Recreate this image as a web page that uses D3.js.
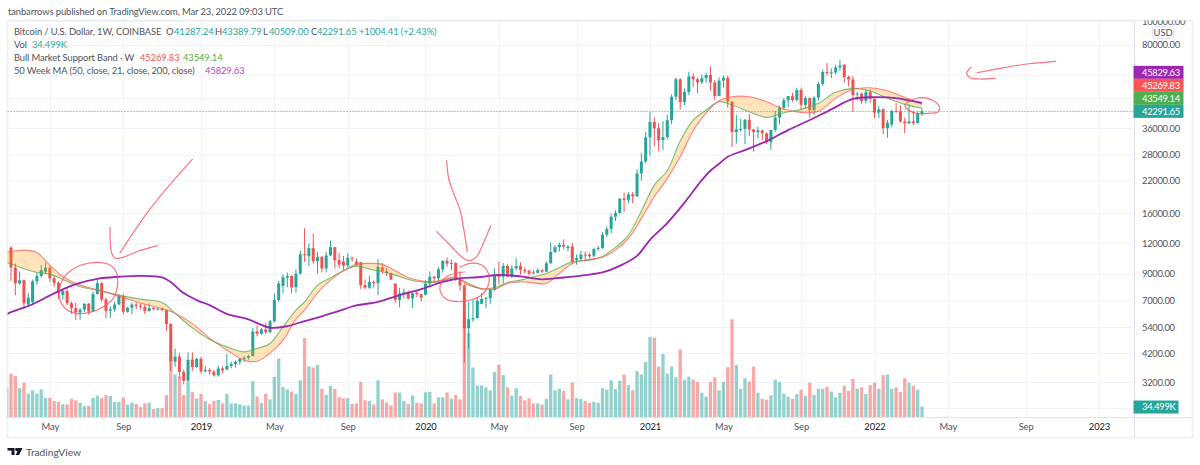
<!DOCTYPE html>
<html>
<head>
<meta charset="utf-8">
<title>BTCUSD 1W</title>
<script src="https://cdn.jsdelivr.net/npm/d3@7"></script>
<style>
  html, body { margin: 0; padding: 0; background: #fff; }
  svg { display: block; }
  text { font-family: "Lato", "Open Sans", sans-serif; font-size: 9.4px; letter-spacing: -0.1px; }
  .num { letter-spacing: -0.3px; }
</style>
</head>
<body>
<svg id="chart" width="1200" height="465"></svg>
<script>
// weekly candles, Mar 5 2018 .. Mar 21 2022
const open = [11510,9530,8200,8450,6700,6850,8360,8800,9155,9510,8600,8240,7350,7620,6780,6470,6210,6380,6750,6260,7400,8210,7030,6310,6400,6710,7260,6250,6490,6700,6620,6560,6300,6480,6380,6440,6350,5560,3890,4070,3520,3240,3960,3690,3990,3540,3590,3530,3410,3640,3600,3730,3800,3880,3990,4030,4100,5180,5070,5280,5150,5710,7000,8000,8650,8800,7900,9000,10830,10630,11470,10130,10560,9450,10700,11570,10230,10100,9725,10460,10100,10030,8060,7870,8300,8215,9550,9200,9030,8180,7000,7400,7530,7100,7500,7380,7350,8180,8730,8610,9370,10170,9900,9960,8530,8040,5340,5820,5890,6750,7060,7120,7700,8870,8730,9680,8720,9450,9670,9320,9250,9100,9060,9300,9170,9930,11050,11570,11850,11480,11660,10250,10330,10780,10780,10670,11370,11500,13030,13770,15480,16050,18400,18180,19150,18800,23400,26200,33000,38200,36000,32100,33100,38870,48600,57400,46200,50900,59000,57400,55800,58000,59800,55700,49000,56700,58200,46400,34700,35650,35800,39000,35600,34700,35300,34250,31500,35400,39850,43800,47000,48900,47100,51800,45000,48000,42700,48200,54950,61500,60800,61300,64300,65900,58700,57300,49700,50100,46700,50800,47700,41800,43100,36000,37300,42400,42200,38400,37700,38400,37800,41287.24];
const high = [11700,9900,9180,8500,7500,8500,9040,9760,9990,9650,8790,8360,7780,7780,6900,6830,6480,6780,6800,7590,8480,8290,7150,6600,6880,7400,7410,6570,6830,6850,6740,6680,6780,6520,6500,6510,6380,5620,4400,4220,3600,4250,4250,4020,4070,3730,3650,3590,3740,3720,4190,3880,3930,4020,4100,4150,5350,5470,5350,5640,5780,7450,8390,8950,9090,8840,9350,11200,13880,12000,13200,11100,10650,11080,12330,11620,10950,10650,10920,10550,10400,10050,8520,8820,8440,10350,9950,9500,9100,8210,7850,7800,7650,7520,7700,7450,8450,9190,8800,9580,10200,10500,10300,10030,9190,8180,6880,6990,7200,7460,7200,7770,9460,10080,9950,9840,9750,10430,10000,9550,9350,9300,9480,9380,10100,12120,11800,12100,12470,11800,12070,10800,11180,11100,10950,11500,11720,13350,14100,15960,16480,18480,19500,19550,19600,24300,28400,34800,41950,40000,37800,38500,40950,49700,58350,58000,52600,61700,61000,58400,60100,61200,64900,57000,58500,59600,59500,46700,40900,39400,39400,41300,35700,36600,35500,34600,35400,42500,44700,48100,49000,50500,52900,52900,48800,48400,48800,56100,62900,67000,63700,66000,69000,66300,59500,59100,51000,50500,51900,52100,47900,44400,43500,38900,43000,45800,44800,39800,45400,42500,42400,43389.79];
const low = [8400,7320,8080,6430,6580,6640,8100,8650,9000,8330,7940,7050,7030,6650,6120,5780,5800,6230,6100,6240,7360,6870,5880,5880,6250,6660,6100,6200,6100,6400,6400,6100,6250,6350,6330,6280,5200,3560,3700,3300,3130,3200,3560,3650,3480,3510,3430,3370,3370,3470,3590,3650,3680,3780,3880,3960,4080,4950,5020,5050,5080,5650,6900,7450,7900,7450,7500,8900,10050,9650,9900,9000,9100,9100,10600,9460,9500,9330,9580,10080,9620,7750,7750,7780,7880,7330,8970,8800,8450,6800,6520,7080,7020,6480,7200,6880,7300,8050,8240,8400,9100,9600,9300,8410,7650,3850,4400,5680,5860,6720,6460,6750,7630,8120,8180,8700,8640,9270,8900,9000,8850,8900,9000,9020,9120,9900,10950,11100,11370,11130,9840,9800,10200,10130,10400,10530,11170,11400,12750,13200,14850,15800,16200,17600,17600,18700,21800,25800,27700,30300,28850,29200,32300,37400,47000,43000,44900,49300,53300,50300,54900,55500,51500,47000,48800,53000,43800,30000,31100,34800,31000,33400,28800,32700,32100,31000,29300,34800,37300,43000,43900,46300,46400,43000,43400,39700,40800,46900,53900,59500,58000,60000,62300,55600,53600,42000,46900,45500,45600,45900,39650,39700,34000,32900,36300,41700,38000,34300,37500,37200,37600,40509];
const close = [9530,8200,8450,6790,7150,8360,8800,9300,9510,8600,8240,7470,7620,6780,6470,6210,6380,6750,6260,7400,8210,7030,6300,6400,6700,7260,6250,6490,6700,6620,6560,6300,6480,6410,6440,6350,5560,3900,4070,3520,3240,3950,3690,3990,3540,3590,3540,3410,3640,3580,3730,3800,3880,3990,4030,4100,5180,5070,5280,5150,5710,7000,8200,8700,8800,7900,9000,10830,10750,11470,10130,10560,9450,10700,11570,10230,9800,9725,10460,10360,9800,8065,7870,8300,8220,9600,9200,9030,8500,7000,7450,7530,7100,7450,7400,7150,8180,8730,8610,9370,10170,9900,9960,8530,8040,5340,5820,5890,6950,7060,7120,7700,8870,8730,9680,8730,9450,9670,9320,9200,9000,9060,9300,9170,9930,11050,11570,11850,11650,11660,10100,10450,10780,10700,10620,11370,11500,13030,13770,15480,16050,18400,18180,19150,18800,23400,26200,33000,38200,36000,32100,33100,38870,48600,57400,46200,50900,59000,57400,55800,58000,59800,55700,49000,56700,58200,46400,34700,35600,35800,39000,35600,34700,35300,34250,31500,35400,39850,43800,47000,48900,47100,51800,45000,48000,42700,48200,54950,61500,60800,61300,64300,65500,58600,57300,49400,50100,46700,50800,47700,41800,43100,36000,37900,42400,42200,38400,37700,38400,37800,41287.24,42291.65];
// volume in thousands of BTC
const volume = [143,135,95,113,77,88,77,91,63,63,53,50,42,42,60,55,47,36,37,63,70,63,72,69,50,50,64,41,47,43,33,45,47,26,29,29,72,201,140,133,72,116,82,61,76,53,43,53,56,45,76,45,45,42,38,38,118,68,46,77,58,132,193,99,91,84,76,121,260,167,163,171,93,73,103,93,65,62,62,43,45,116,55,53,41,121,58,48,38,81,81,53,43,71,47,45,81,83,45,65,65,81,60,73,58,325,278,163,104,104,98,88,148,172,138,98,71,95,70,55,62,45,45,41,60,140,88,93,86,58,114,62,59,53,47,50,47,95,90,121,92,120,140,105,88,151,140,181,264,262,166,208,143,166,131,223,123,133,123,116,80,67,116,131,88,116,164,322,171,93,128,117,166,80,60,57,72,123,115,77,67,60,75,90,70,113,73,93,93,100,84,65,80,103,86,126,93,98,76,105,113,93,138,140,93,98,82,128,113,103,90,34.499];
// the week before the first candle, only its volume bar peeks in at the left edge
const partialVolume = 96;

// bull market support band, read every few weeks (week number from first candle)
const bandWeek = [-1,0,3,6,9,12,16,20,25,30,35,38,42,46,50,54,57,60,63,66,68,71,74,77,80,83,86,89,92,95,98,101,103,106,109,112,115,118,121,124,127,130,134,137,140,143,146,149,152,155,158,161,164,167,171,175,179,183,187,191,195,199,203,207,211];
const bandUpper = [11050,11100,11260,10995,9756,8759,8061,7722,7257,6788,6441,6170,5583,4860,4335,3940,3903,4212,4769,5827,6350,7490,8455,9240,9850,9916,9824,9240,8675,8400,8319,8594,8700,8061,7812,7762,8193,8319,8240,8193,9013,9916,10300,10526,11260,12590,15235,18720,22310,27420,35140,41720,46790,48600,48600,46340,43225,41870,42280,47870,52160,52960,51470,48330,45269.83];
const bandLower = [10005,9878,9417,9098,8953,8512,7931,7685,7327,7053,6832,6154,5363,4801,4474,4265,4406,4622,5414,6350,6873,8061,8642,9240,9663,9391,9151,8868,8512,8319,8270,8512,8642,8193,7762,7881,8270,8455,8730,9013,9544,10085,10230,10600,11550,12990,16330,20930,23990,31845,38920,42810,46340,44900,42120,39930,41720,43100,45640,50690,52660,51320,47870,45200,43549.14];

// 50 week MA
const maWeek = [-1,0,5,10,15,20,25,30,35,37,40,43,46,50,55,60,64,68,72,76,80,85,90,95,100,104,108,113,118,123,128,133,137,141,145,148,152,156,160,162,164,166,170,175,180,185,190,195,200,205,208,211];
const maValue = [6115,6230,6720,7450,8140,8560,8730,8810,8680,8300,7470,6990,6660,6130,5810,5370,5450,5720,5990,6310,6640,6870,7330,7760,8320,8600,8690,8880,8770,8520,8670,8870,9100,9690,10660,12420,14570,17700,21950,24000,25650,27420,29230,31830,35370,38920,43100,47600,48400,48000,46900,45829.63];

const priceTicks = [100000,80000,36000,28000,22000,16000,12000,9000,7000,5400,4200,3200];
const priceGridOnly = [60000,48000,2500];
const timeTicks = ['2018-05-07','2018-09-03','2019-01-07','2019-05-06','2019-09-02','2020-01-06','2020-05-04','2020-09-07','2021-01-04','2021-05-03','2021-09-06','2022-01-03','2022-05-02','2022-09-05','2023-01-02'].map(d => new Date(d));
const timeLabels = ['May','Sep','2019','May','Sep','2020','May','Sep','2021','May','Sep','2022','May','Sep','2023'];

// last values for the scale tags
const lastValues = [
  { value: 45829.63, color: '#9c27b0' },
  { value: 45269.83, color: '#ff5252' },
  { value: 43549.14, color: '#4caf50' },
  { value: 42291.65, color: '#26a69a' }
];
const lastVolume = 34.499;

// hand drawn pen strokes on top of the screenshot, these are page pixels
const penStrokes = [
  [[192.3,159.3],[166.7,188.3],[146.7,213.3],[120,252.7]],
  [[110,227.3],[110.3,243.3],[111.7,253.3],[115,258.3],[121.7,257.7],[136.7,251.7],[157.3,245.7]],
  [[83.3,264.3],[96.7,262.3],[110,265],[116.7,273.3],[117.3,286.7],[113.3,298.3],[103.3,306.7],[90,312.3],[75,313.3],[65,308.3],[60,300],[59.3,290],[63.3,278.3],[71.7,270],[83.3,264.3]],
  [[446.7,160.7],[449,180],[455,196.7],[460,210],[463.3,226.7],[467.3,251.7]],
  [[436.7,231.7],[450,245],[463.3,258.3],[470,260.7],[476.7,256.7],[483.3,243.3],[490.7,225.7]],
  [[460,267.3],[470,263.3],[481.7,265],[488.3,273.3],[488.3,285],[481.7,295],[470,300],[456.7,301.7],[445,298.3],[440,290],[441.7,281.7],[450,275],[465,272]],
  [[911.7,100],[920,97.7],[933.3,100.7],[939.3,106.7],[938.3,111.7],[928.3,113.3],[916.7,113.3],[908.3,110],[905,105],[911.7,100]],
  [[1055.7,61.3],[1026.7,64],[1000,68.3],[977.3,72.7]],
  [[971,67.3],[966.7,73.3],[970,77.7],[980,79],[995,78.3]]
];

const UP = '#26a69a', DOWN = '#ef5350', GRID = '#f0f3fa', TEXT = '#50535e';
const frame = { left: 7.5, top: 20.5, plotRight: 1134.5, right: 1192.5, axisY: 417.5, bottom: 437.5 };

const firstMonday = new Date(Date.UTC(2018, 2, 5));
const weekDate = i => d3.utcMonday.offset(firstMonday, i);

const x = d3.scaleUtc().domain([firstMonday, weekDate(211)]).range([11, 922]);
const y = d3.scaleLog().domain([80000, 3200]).range([44.5, 382]);
const yVol = d3.scaleLinear().domain([0, 322]).range([417, 319.3]);

const svg = d3.select('#chart');
const defs = svg.append('defs');
defs.append('clipPath').attr('id', 'plot-clip').append('rect')
  .attr('x', frame.left).attr('y', frame.top)
  .attr('width', frame.plotRight - frame.left).attr('height', frame.axisY - frame.top);
defs.append('clipPath').attr('id', 'scale-clip').append('rect')
  .attr('x', frame.plotRight).attr('y', frame.top)
  .attr('width', frame.right - frame.plotRight).attr('height', frame.axisY - frame.top);

// grid
const grid = svg.append('g').attr('stroke', GRID).attr('stroke-width', 1);
[...priceTicks, ...priceGridOnly].forEach(p => {
  const py = Math.round(y(p)) + 0.5;
  grid.append('line').attr('x1', frame.left).attr('x2', frame.plotRight).attr('y1', py).attr('y2', py);
});
timeTicks.forEach(d => {
  const px = Math.round(x(d)) + 0.5;
  grid.append('line').attr('x1', px).attr('x2', px).attr('y1', frame.top).attr('y2', frame.axisY);
});

// frame
const box = svg.append('g').attr('stroke', '#eceef3').attr('fill', 'none');
box.append('rect').attr('x', frame.left).attr('y', frame.top)
  .attr('width', frame.right - frame.left).attr('height', frame.bottom - frame.top).attr('stroke-width', 1.5);
box.append('line').attr('x1', frame.left).attr('x2', frame.right).attr('y1', frame.axisY).attr('y2', frame.axisY).attr('stroke', '#e0e3eb');
box.append('line').attr('x1', frame.plotRight).attr('x2', frame.plotRight).attr('y1', frame.top).attr('y2', frame.bottom).attr('stroke', '#e0e3eb');

const plot = svg.append('g').attr('clip-path', 'url(#plot-clip)');

// volume
const weeks = d3.range(volume.length);
plot.append('g').selectAll('rect').data(weeks).join('rect')
  .attr('x', i => x(weekDate(i)) - 1.65)
  .attr('y', i => yVol(volume[i]))
  .attr('width', 3.3)
  .attr('height', i => yVol(0) - yVol(volume[i]))
  .attr('fill', i => close[i] >= open[i] ? UP : DOWN)
  .attr('fill-opacity', 0.5);
plot.append('rect')
  .attr('x', x(weekDate(-1)) - 1.65)
  .attr('y', yVol(partialVolume))
  .attr('width', 3.3)
  .attr('height', yVol(0) - yVol(partialVolume))
  .attr('fill', UP)
  .attr('fill-opacity', 0.5);

// last price line
const lastPriceY = Math.round(y(close[211])) + 0.5;
plot.append('line')
  .attr('x1', frame.left).attr('x2', frame.plotRight)
  .attr('y1', lastPriceY).attr('y2', lastPriceY)
  .attr('stroke', UP).attr('stroke-width', 1).attr('stroke-dasharray', '1 2');

// candles
const candle = plot.append('g').selectAll('g').data(weeks).join('g')
  .attr('fill', i => close[i] >= open[i] ? UP : DOWN)
  .attr('stroke', i => close[i] >= open[i] ? UP : DOWN);
candle.append('line')
  .attr('x1', i => x(weekDate(i))).attr('x2', i => x(weekDate(i)))
  .attr('y1', i => y(high[i])).attr('y2', i => y(low[i]))
  .attr('stroke-width', 1);
candle.append('rect')
  .attr('x', i => x(weekDate(i)) - 1.5)
  .attr('y', i => y(Math.max(open[i], close[i])))
  .attr('width', 3)
  .attr('height', i => Math.max(1, Math.abs(y(open[i]) - y(close[i]))))
  .attr('stroke', 'none');

// band and MA
const smooth = d3.curveCatmullRom.alpha(0.5);
const bandArea = d3.area()
  .x((d, i) => x(weekDate(bandWeek[i])))
  .y0((d, i) => y(bandUpper[i]))
  .y1((d, i) => y(bandLower[i]))
  .curve(smooth);
plot.append('path').attr('d', bandArea(bandWeek)).attr('fill', '#ff9800').attr('fill-opacity', 0.27);

const bandLine = values => d3.line()
  .x((d, i) => x(weekDate(bandWeek[i])))
  .y((d, i) => y(values[i]))
  .curve(smooth)(bandWeek);
plot.append('path').attr('d', bandLine(bandLower)).attr('fill', 'none').attr('stroke', '#4caf50').attr('stroke-opacity', 0.75).attr('stroke-width', 1.1);
plot.append('path').attr('d', bandLine(bandUpper)).attr('fill', 'none').attr('stroke', '#ff5252').attr('stroke-opacity', 0.7).attr('stroke-width', 1.1);

const maLine = d3.line()
  .x((d, i) => x(weekDate(maWeek[i])))
  .y((d, i) => y(maValue[i]))
  .curve(smooth);
plot.append('path').attr('d', maLine(maWeek)).attr('fill', 'none').attr('stroke', '#9c27b0').attr('stroke-width', 1.8);

// price scale
const priceAxis = d3.axisRight(y).tickValues(priceTicks).tickSize(0).tickPadding(0)
  .tickFormat(d3.format('.2f'));
const priceScale = svg.append('g').attr('clip-path', 'url(#scale-clip)');
const priceAxisG = priceScale.append('g').attr('transform', 'translate(1142,0)').call(priceAxis);
priceAxisG.attr('font-size', null).attr('font-family', null);
priceAxisG.select('.domain').remove();
priceAxisG.selectAll('text').attr('class', 'num').attr('fill', TEXT).attr('dy', '0.35em');

// time scale
const timeAxis = d3.axisBottom(x).tickValues(timeTicks).tickSize(0).tickPadding(0)
  .tickFormat((d, i) => timeLabels[i]);
const timeAxisG = svg.append('g').attr('transform', 'translate(0,423)').call(timeAxis);
timeAxisG.attr('font-size', null).attr('font-family', null);
timeAxisG.select('.domain').remove();
timeAxisG.selectAll('text')
  .attr('fill', (d, i) => /^\d/.test(timeLabels[i]) ? '#131722' : TEXT)
  .attr('dy', '0.71em');

// scale tags, TradingView stacks them so they do not collide
const tagBottom = y(close[211]) + 6.5;
lastValues.forEach((tag, i) => {
  const top = tagBottom - (lastValues.length - i) * 13;
  svg.append('rect').attr('x', frame.plotRight - 1).attr('y', top).attr('width', 50).attr('height', 13).attr('fill', tag.color);
  svg.append('text').attr('class', 'num').attr('x', 1142).attr('y', top + 9.8).attr('fill', '#fff').text(tag.value.toFixed(2));
});
svg.append('rect').attr('x', frame.plotRight - 1).attr('y', yVol(lastVolume) - 6).attr('width', 45).attr('height', 13).attr('fill', UP);
svg.append('text').attr('class', 'num').attr('x', 1142).attr('y', yVol(lastVolume) + 3.8).attr('fill', '#fff').text(lastVolume.toFixed(3) + 'K');

// USD box
svg.append('rect').attr('x', 1152.5).attr('y', 26.5).attr('width', 21).attr('height', 12).attr('rx', 2)
  .attr('fill', '#fff').attr('stroke', '#e0e3eb');
svg.append('text').attr('x', 1163).attr('y', 36).attr('text-anchor', 'middle').attr('fill', TEXT).text('USD');

// legend
const legendRows = [
  [[14, 35, 'Bitcoin / U.S. Dollar, 1W, COINBASE', TEXT], [166, 35, 'O', TEXT], [174, 35, '41287.24', UP], [215, 35, 'H', TEXT], [222, 35, '43389.79', UP], [263, 35, 'L', TEXT], [269, 35, '40509.00', UP], [311, 35, 'C', TEXT], [317, 35, '42291.65', UP], [359, 35, '+1004.41 (+2.43%)', UP]],
  [[14, 48, 'Vol', TEXT], [32, 48, '34.499K', UP]],
  [[14, 61, 'Bull Market Support Band · W', TEXT], [140, 61, '45269.83', '#ff5252'], [183, 61, '43549.14', '#4caf50']],
  [[14, 74, '50 Week MA (50, close, 21, close, 200, close)', TEXT], [205, 74, '45829.63', '#ab47bc']]
];
legendRows.forEach(row => row.forEach(([lx, ly, label, color]) => {
  svg.append('text').attr('x', lx).attr('y', ly).attr('fill', color).text(label);
}));

// published by line and logo
svg.append('text').attr('x', 8).attr('y', 15).attr('fill', TEXT)
  .text('tanbarrows published on TradingView.com, Mar 23, 2022 09:03 UTC');
svg.append('path').attr('d', 'M7.5 448h7v7h-3v-4.6h-4zM15.5 451l2-3h5l-3.5 7h-3.2l1.6-4z').attr('fill', '#131722');
svg.append('circle').attr('cx', 16.5).attr('cy', 449.4).attr('r', 1.4).attr('fill', '#131722');
svg.append('text').attr('x', 26).attr('y', 455.5).attr('fill', TEXT).style('font-size', '10.2px').style('letter-spacing', '0').text('TradingView');

// pen strokes
const penLine = d3.line().curve(d3.curveCatmullRom);
svg.append('g').attr('fill', 'none').attr('stroke', '#f7525f').attr('stroke-opacity', 0.8)
  .attr('stroke-width', 1.2).attr('stroke-linecap', 'round')
  .selectAll('path').data(penStrokes).join('path').attr('d', penLine);
</script>
</body>
</html>
